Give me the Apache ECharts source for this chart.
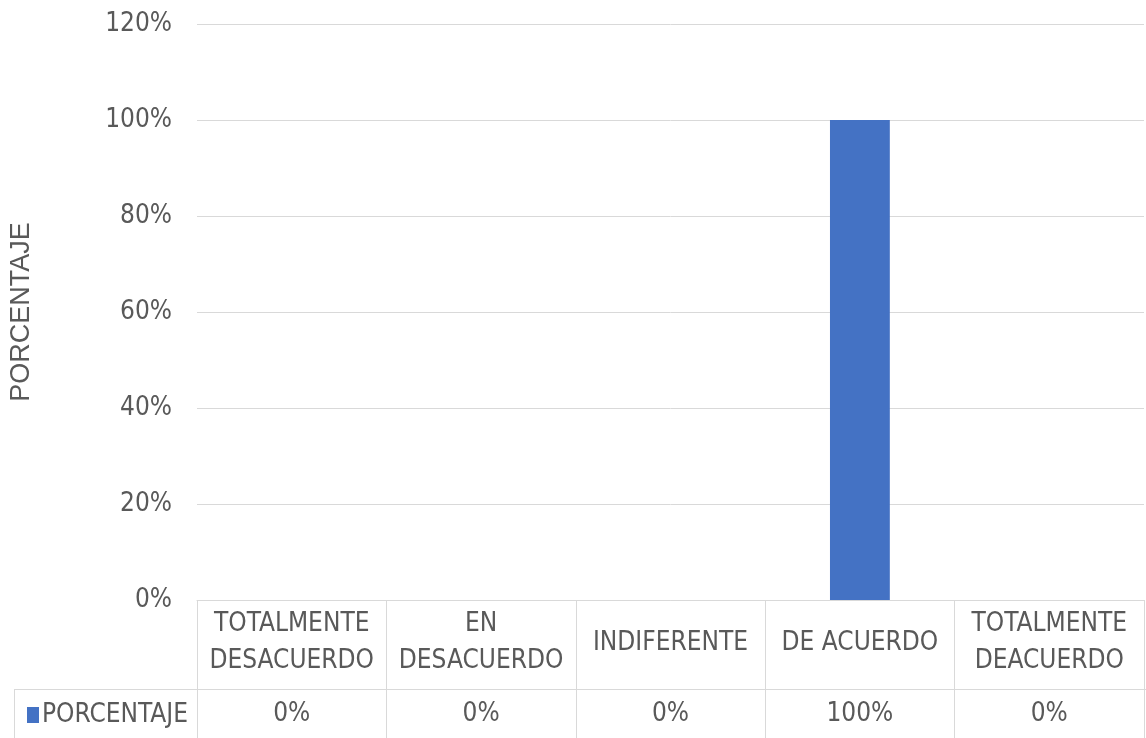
<!DOCTYPE html>
<html>
<head>
<meta charset="utf-8">
<script src="https://cdn.jsdelivr.net/npm/echarts@6/dist/echarts.min.js"></script>
<style>
html,body{margin:0;padding:0;background:#fff;}
#chart{width:1146px;height:738px;}
</style>
</head>
<body>
<div id="chart"></div>
<script>
const categories = ['TOTALMENTE\nDESACUERDO', 'EN\nDESACUERDO', 'INDIFERENTE', 'DE ACUERDO', 'TOTALMENTE\nDEACUERDO'];
const values = [0, 0, 0, 100, 0];
const seriesName = 'PORCENTAJE';
const axisTitle = 'PORCENTAJE';

const narrow = '"Liberation Sans Narrow", "DejaVu Sans Condensed", sans-serif';
const txt = '#595959';
const lineCol = '#d9d9d9';

const chart = echarts.init(document.getElementById('chart'));
chart.setOption({
  animation: false,
  grid: { left: 194, right: 2, top: 24, bottom: 138 },
  legend: {
    data: [seriesName],
    left: 22, top: 697,
    icon: 'rect', itemWidth: 12, itemHeight: 16, itemGap: 4,
    textStyle: { fontFamily: narrow, fontSize: 26, color: txt, padding: [0,0,0,-2] }
  },
  xAxis: [{
    type: 'category',
    data: categories,
    axisLine: { show: true, lineStyle: { color: lineCol, width: 1 } },
    axisTick: { show: true, length: 138, interval: 0, lineStyle: { color: lineCol, width: 1 } },
    axisLabel: {
      interval: 0, margin: 43, verticalAlign: 'middle',
      fontFamily: narrow, fontSize: 26, lineHeight: 37, color: txt, align: 'center'
    }
  }, {
    type: 'category',
    data: categories,
    position: 'bottom',
    axisLine: { show: false },
    axisTick: { show: false },
    axisLabel: {
      interval: 0, margin: 114, verticalAlign: 'middle',
      fontFamily: narrow, fontSize: 26, color: txt,
      formatter: (v, i) => values[i] + '%'
    }
  }],
  yAxis: {
    type: 'value',
    min: 0, max: 120, interval: 20,
    name: axisTitle,
    nameLocation: 'middle',
    nameRotate: 90,
    nameGap: 162,
    nameTextStyle: { fontFamily: '"Liberation Sans", Arial, sans-serif', fontSize: 27, color: txt },
    axisLine: { show: false },
    axisTick: { show: false },
    axisLabel: { formatter: '{value}%', margin: 25, fontFamily: narrow, fontSize: 26, color: txt, padding: [3,0,0,0] },
    splitLine: { lineStyle: { color: lineCol, width: 1 } }
  },
  series: [{
    name: seriesName,
    type: 'bar',
    data: values,
    barWidth: '31.6%',
    itemStyle: { color: '#4472C4' }
  }],
  graphic: [
    { type: 'line', shape: { x1: 14, y1: 689.5, x2: 1146, y2: 689.5 }, style: { stroke: lineCol, lineWidth: 1 } },
    { type: 'line', shape: { x1: 14.5, y1: 689, x2: 14.5, y2: 738 }, style: { stroke: lineCol, lineWidth: 1 } }
  ]
});
</script>
</body>
</html>
